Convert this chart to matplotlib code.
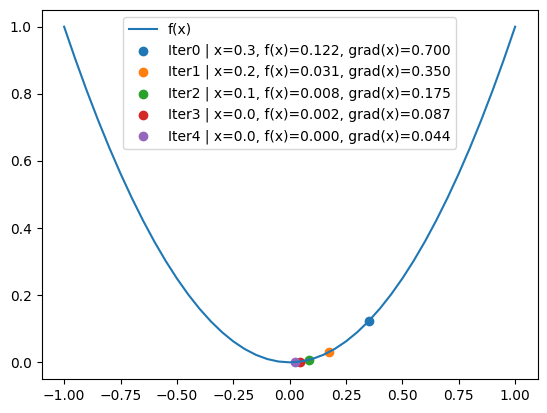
import matplotlib
matplotlib.use("Agg")
import matplotlib.pyplot as plt

# curve samples of f(x)
curve_x = [-1.0, -0.95, -0.9, -0.85, -0.8, -0.75, -0.7, -0.65, -0.6, -0.55, -0.5,
           -0.45, -0.4, -0.35, -0.3, -0.25, -0.2, -0.15, -0.1, -0.05, 0.0,
           0.05, 0.1, 0.15, 0.2, 0.25, 0.3, 0.35, 0.4, 0.45, 0.5,
           0.55, 0.6, 0.65, 0.7, 0.75, 0.8, 0.85, 0.9, 0.95, 1.0]
curve_y = [1.0, 0.9025, 0.81, 0.7225, 0.64, 0.5625, 0.49, 0.4225, 0.36, 0.3025, 0.25,
           0.2025, 0.16, 0.1225, 0.09, 0.0625, 0.04, 0.0225, 0.01, 0.0025, 0.0,
           0.0025, 0.01, 0.0225, 0.04, 0.0625, 0.09, 0.1225, 0.16, 0.2025, 0.25,
           0.3025, 0.36, 0.4225, 0.49, 0.5625, 0.64, 0.7225, 0.81, 0.9025, 1.0]

# iterations
iter_x = [0.35, 0.175, 0.0875, 0.04375, 0.021875]
iter_y = [0.1225, 0.030625, 0.0077, 0.0019, 0.0005]
iter_labels = [
    "Iter0 | x=0.3, f(x)=0.122, grad(x)=0.700",
    "Iter1 | x=0.2, f(x)=0.031, grad(x)=0.350",
    "Iter2 | x=0.1, f(x)=0.008, grad(x)=0.175",
    "Iter3 | x=0.0, f(x)=0.002, grad(x)=0.087",
    "Iter4 | x=0.0, f(x)=0.000, grad(x)=0.044",
]

fig, ax = plt.subplots(figsize=(5.47, 4.13), dpi=100)
fig.subplots_adjust(left=0.076, right=0.983, bottom=0.082, top=0.976)

ax.plot(curve_x, curve_y, label="f(x)")
for x, y, lab in zip(iter_x, iter_y, iter_labels):
    ax.scatter([x], [y], label=lab)

ax.legend(loc="upper center")
fig.savefig("out.png")
